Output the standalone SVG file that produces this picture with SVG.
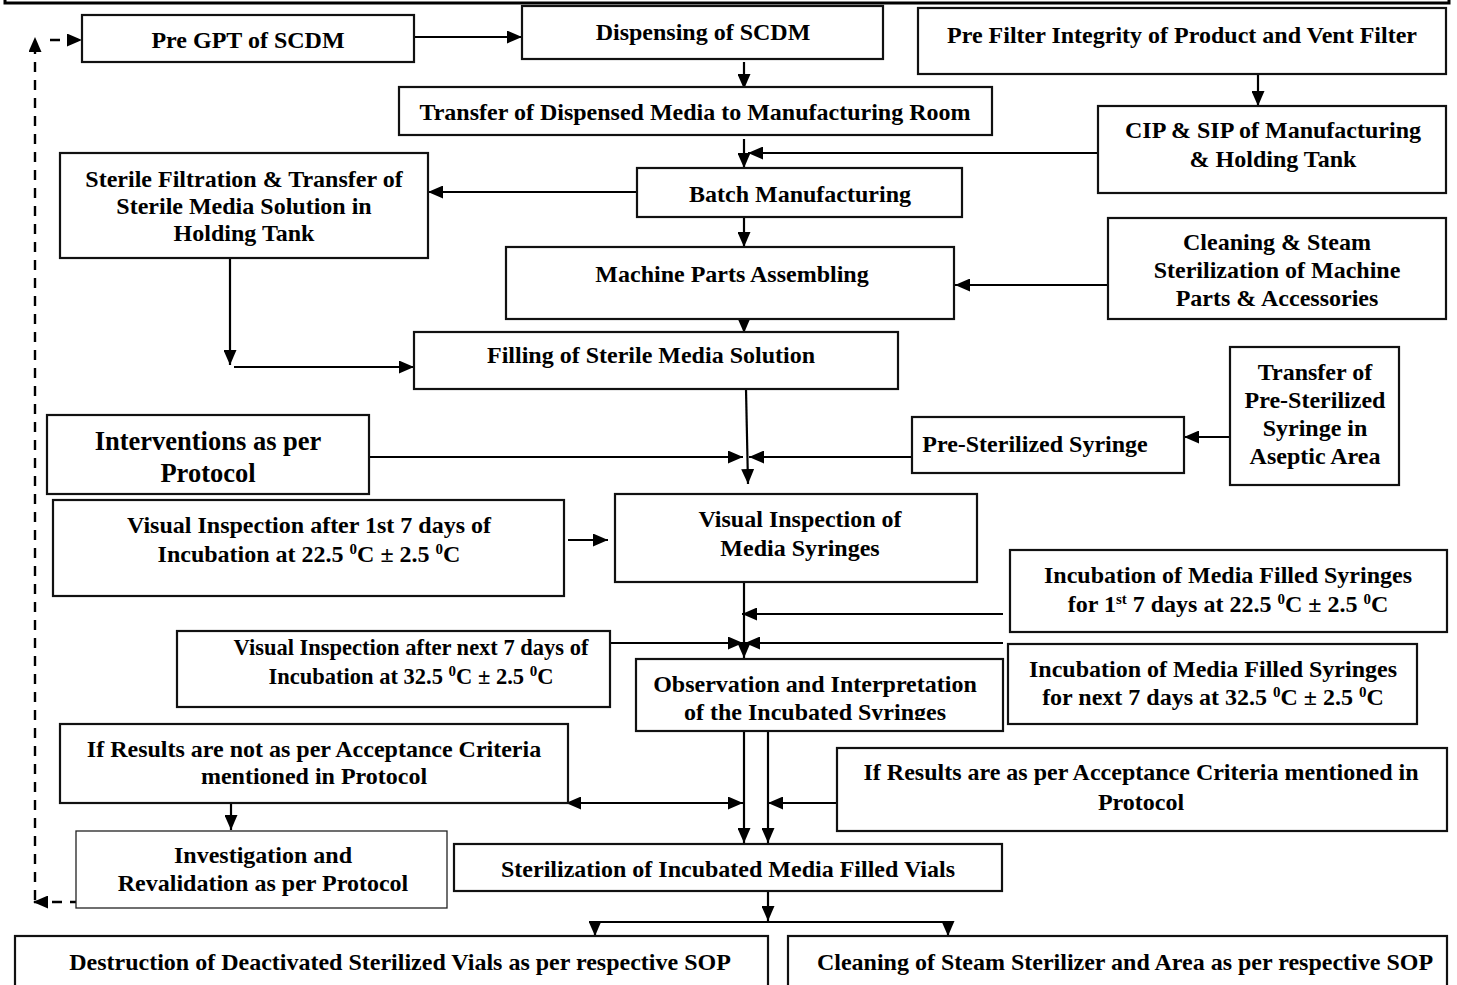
<svg xmlns="http://www.w3.org/2000/svg" width="1457" height="985" viewBox="0 0 1457 985">
  <style>
    .box { fill: #ffffff; stroke: #111111; stroke-width: 2.2; }
    .thin { stroke-width: 1.3; stroke: #222222; }
    .t { font-family: "Liberation Serif", "Times New Roman", serif; font-weight: bold; font-size: 24px; fill: #000000; text-anchor: middle; }
    .big { font-size: 26.5px; }
    .small { font-size: 22.5px; }
    .sup { font-size: 15px; }
    .ln { fill: none; stroke: #000000; stroke-width: 2.2; }
    .arr { marker-end: url(#ah); }
    .dash { fill: none; stroke: #000000; stroke-width: 2.4; stroke-dasharray: 10 8; marker-end: url(#ah); }
  </style>
  <defs>
    <marker id="ah" markerUnits="userSpaceOnUse" markerWidth="15" markerHeight="13" viewBox="0 0 15 13" refX="15" refY="6.5" orient="auto">
      <path d="M0,0 L15,6.5 L0,13 z" fill="#000000"/>
    </marker>
    <marker id="ahs" markerUnits="userSpaceOnUse" markerWidth="15" markerHeight="13" viewBox="0 0 15 13" refX="0" refY="6.5" orient="auto">
      <path d="M15,0 L0,6.5 L15,13 z" fill="#000000"/>
    </marker>
    <clipPath id="obsClip">
      <rect x="636" y="659" width="367" height="61"/>
    </clipPath>
  </defs>

  <rect width="1457" height="985" fill="#ffffff"/>

  <!-- page frame edge along the top -->
  <path d="M5,-2 V3 H1449 V-2" fill="none" stroke="#000000" stroke-width="3"/>

  <g id="connectors">
    <path class="ln arr" d="M414,37 H522"/>
    <path class="ln arr" d="M744,62 V89"/>
    <path class="ln arr" d="M744,139 V168"/>
    <path class="ln arr" d="M1098,153 H748"/>
    <path class="ln arr" d="M1258,74 V106"/>
    <path class="ln arr" d="M637,192 H428"/>
    <path class="ln arr" d="M744,217 V247"/>
    <path class="ln arr" d="M1108,285 H955"/>
    <path class="ln arr" d="M744,319 V333"/>
    <path class="ln arr" d="M230,258 V365"/>
    <path class="ln arr" d="M234,367 H414"/>
    <path class="ln arr" d="M746,389 L748,484"/>
    <path class="ln arr" d="M369,457 H743"/>
    <path class="ln arr" d="M912,457 H749"/>
    <path class="ln arr" d="M1230,437 H1184"/>
    <path class="ln arr" d="M568,540 H608"/>
    <path class="ln arr" d="M744,582 V658"/>
    <path class="ln arr" d="M1003,614 H742"/>
    <path class="ln arr" d="M608,643 H743"/>
    <path class="ln arr" d="M1003,643 H745"/>
    <path class="ln arr" d="M744,731 V843"/>
    <path class="ln arr" d="M768,731 V843"/>
    <path class="ln arr" d="M566,803 H743" marker-start="url(#ahs)"/>
    <path class="ln arr" d="M837,803 H768"/>
    <path class="ln arr" d="M231,803 V830"/>
    <path class="ln arr" d="M768,891 V921"/>
    <path class="ln" d="M595,922 H948"/>
    <path class="ln arr" d="M595,921 V936"/>
    <path class="ln arr" d="M948,921 V936"/>
    <!-- revalidation loop back to the start -->
    <path class="dash" d="M80,902 H33"/>
    <path class="dash" d="M35,900 V37"/>
    <path class="dash" d="M50,40 H82"/>
  </g>

  <g id="pre-gpt">
    <rect class="box" x="82" y="15" width="332" height="47"/>
    <text class="t" x="248" y="48">Pre GPT of SCDM</text>
  </g>

  <g id="dispensing">
    <rect class="box" x="522" y="6" width="361" height="53"/>
    <text class="t" x="703" y="40">Dispensing of SCDM</text>
  </g>

  <g id="pre-filter">
    <rect class="box" x="918" y="8" width="528" height="66"/>
    <text class="t" x="1182" y="43">Pre Filter Integrity of Product and Vent Filter</text>
  </g>

  <g id="transfer-media">
    <rect class="box" x="399" y="87" width="593" height="48"/>
    <text class="t" x="695" y="120">Transfer of Dispensed Media to Manufacturing Room</text>
  </g>

  <g id="cip-sip">
    <rect class="box" x="1098" y="106" width="348" height="87"/>
    <text class="t" x="1273" y="138">CIP &amp; SIP of Manufacturing</text>
    <text class="t" x="1273" y="167">&amp; Holding Tank</text>
  </g>

  <g id="sterile-filtration">
    <rect class="box" x="60" y="153" width="368" height="105"/>
    <text class="t" x="244" y="187">Sterile Filtration &amp; Transfer of</text>
    <text class="t" x="244" y="214">Sterile Media Solution in</text>
    <text class="t" x="244" y="241">Holding Tank</text>
  </g>

  <g id="batch">
    <rect class="box" x="637" y="168" width="325" height="49"/>
    <text class="t" x="800" y="202">Batch Manufacturing</text>
  </g>

  <g id="machine-parts">
    <rect class="box" x="506" y="247" width="448" height="72"/>
    <text class="t" x="732" y="282">Machine Parts Assembling</text>
  </g>

  <g id="cleaning-parts">
    <rect class="box" x="1108" y="218" width="338" height="101"/>
    <text class="t" x="1277" y="250">Cleaning &amp; Steam</text>
    <text class="t" x="1277" y="278">Sterilization of Machine</text>
    <text class="t" x="1277" y="306">Parts &amp; Accessories</text>
  </g>

  <g id="filling">
    <rect class="box" x="414" y="332" width="484" height="57"/>
    <text class="t" x="651" y="363">Filling of Sterile Media Solution</text>
  </g>

  <g id="interventions">
    <rect class="box" x="47" y="415" width="322" height="79"/>
    <text class="t big" x="208" y="450">Interventions as per</text>
    <text class="t big" x="208" y="482">Protocol</text>
  </g>

  <g id="pre-sterilized-syringe">
    <rect class="box" x="912" y="417" width="272" height="56"/>
    <text class="t" x="1035" y="452">Pre-Sterilized Syringe</text>
  </g>

  <g id="transfer-syringe">
    <rect class="box" x="1230" y="347" width="169" height="138"/>
    <text class="t" x="1315" y="380">Transfer of</text>
    <text class="t" x="1315" y="408">Pre-Sterilized</text>
    <text class="t" x="1315" y="436">Syringe in</text>
    <text class="t" x="1315" y="464">Aseptic Area</text>
  </g>

  <g id="visual-first">
    <rect class="box" x="53" y="500" width="511" height="96"/>
    <text class="t" x="309" y="533">Visual Inspection after 1st 7 days of</text>
    <text class="t" x="309" y="562">Incubation at 22.5 <tspan class="sup" baseline-shift="super">0</tspan>C ± 2.5 <tspan class="sup" baseline-shift="super">0</tspan>C</text>
  </g>

  <g id="visual-media">
    <rect class="box" x="615" y="494" width="362" height="88"/>
    <text class="t" x="800" y="527">Visual Inspection of</text>
    <text class="t" x="800" y="556">Media Syringes</text>
  </g>

  <g id="incubation-first">
    <rect class="box" x="1010" y="550" width="437" height="82"/>
    <text class="t" x="1228" y="583">Incubation of Media Filled Syringes</text>
    <text class="t" x="1228" y="612">for 1<tspan class="sup" baseline-shift="super">st</tspan> 7 days at 22.5 <tspan class="sup" baseline-shift="super">0</tspan>C ± 2.5 <tspan class="sup" baseline-shift="super">0</tspan>C</text>
  </g>

  <g id="visual-next">
    <rect class="box" x="177" y="631" width="433" height="76"/>
    <text class="t small" x="411" y="655">Visual Inspection after next 7 days of</text>
    <text class="t small" x="411" y="684">Incubation at 32.5 <tspan class="sup" baseline-shift="super">0</tspan>C ± 2.5 <tspan class="sup" baseline-shift="super">0</tspan>C</text>
  </g>

  <g id="observation">
    <rect class="box" x="636" y="659" width="367" height="72"/>
    <g clip-path="url(#obsClip)">
      <text class="t" x="815" y="692">Observation and Interpretation</text>
      <text class="t" x="815" y="720">of the Incubated Syringes</text>
    </g>
  </g>

  <g id="incubation-next">
    <rect class="box" x="1008" y="644" width="409" height="80"/>
    <text class="t" x="1213" y="677">Incubation of Media Filled Syringes</text>
    <text class="t" x="1213" y="705">for next 7 days at 32.5 <tspan class="sup" baseline-shift="super">0</tspan>C ± 2.5 <tspan class="sup" baseline-shift="super">0</tspan>C</text>
  </g>

  <g id="results-fail">
    <rect class="box" x="60" y="724" width="508" height="79"/>
    <text class="t" x="314" y="757">If Results are not as per Acceptance Criteria</text>
    <text class="t" x="314" y="784">mentioned in Protocol</text>
  </g>

  <g id="results-pass">
    <rect class="box" x="837" y="748" width="610" height="83"/>
    <text class="t" x="1141" y="780">If Results are as per Acceptance Criteria mentioned in</text>
    <text class="t" x="1141" y="810">Protocol</text>
  </g>

  <g id="investigation">
    <rect class="box thin" x="76" y="831" width="371" height="77"/>
    <text class="t" x="263" y="863">Investigation and</text>
    <text class="t" x="263" y="891">Revalidation as per Protocol</text>
  </g>

  <g id="sterilization">
    <rect class="box" x="454" y="844" width="548" height="47"/>
    <text class="t" x="728" y="877">Sterilization of Incubated Media Filled Vials</text>
  </g>

  <g id="destruction">
    <rect class="box" x="15" y="936" width="753" height="60"/>
    <text class="t" x="400" y="970">Destruction of Deactivated Sterilized Vials as per respective SOP</text>
  </g>

  <g id="cleaning-sterilizer">
    <rect class="box" x="788" y="936" width="659" height="60"/>
    <text class="t" x="1125" y="970">Cleaning of Steam Sterilizer and Area as per respective SOP</text>
  </g>
</svg>
